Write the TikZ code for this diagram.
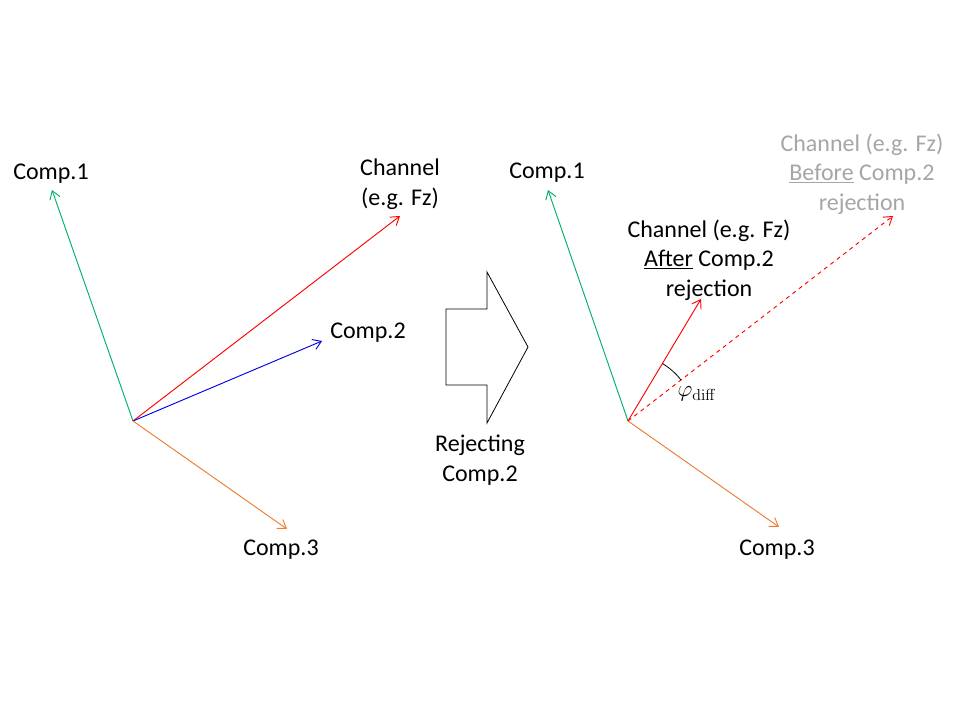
\documentclass[tikz,border=0pt]{standalone}
\usepackage[no-math]{fontspec}
\setmainfont{Carlito}
\usetikzlibrary{arrows.meta}
\definecolor{cgreen}{RGB}{0,176,100}
\definecolor{corange}{RGB}{237,125,49}
\definecolor{cred}{RGB}{255,0,0}
\definecolor{cblue}{RGB}{0,0,230}
\definecolor{cgray}{RGB}{166,166,166}
\tikzset{
  vec/.style={line width=0.7pt,-{Straight Barb[length=6pt,width=8pt]}},
  lbl/.style={font=\fontsize{18}{22.2}\selectfont,align=center,inner sep=0pt},
}
\begin{document}
\begin{tikzpicture}[x=0.75pt,y=-0.75pt]
\useasboundingbox[fill=white] (0,0) rectangle (960,720);
% left diagram
\coordinate (O1) at (133,421);
\coordinate (c1a) at (52,190);
\coordinate (cha) at (400,216);
\coordinate (c2a) at (322,341);
\coordinate (c3a) at (287,529);
\draw[vec,cgreen] (O1) -- (c1a);
\draw[vec,cred] (O1) -- (cha);
\draw[vec,cblue] (O1) -- (c2a);
\draw[vec,corange] (O1) -- (c3a);
\node[lbl] (l1a) at (51,174) {Comp.1};
\node[lbl] (lcha) at (400,184) {Channel\\(e.g. Fz)};
\node[lbl] (l2a) at (368,333) {Comp.2};
\node[lbl] (l3a) at (281,550) {Comp.3};
% block arrow
\draw[line width=0.6pt] (446,309) -- (487,309) -- (487,272) -- (528,347) -- (487,423) -- (487,385) -- (446,385) -- cycle;
\node[lbl] (rej) at (480,460) {Rejecting\\Comp.2};
% right diagram
\coordinate (O2) at (628,421);
\coordinate (c1b) at (548,190);
\coordinate (c3b) at (779,527);
\coordinate (chb) at (701,299);
\coordinate (chd) at (893,216);
\draw[vec,cgreen] (O2) -- (c1b);
\draw[vec,corange] (O2) -- (c3b);
\draw[vec,cred] (O2) -- (chb);
\draw[vec,cred,dashed] (O2) -- (chd);
\draw[line width=0.6pt] ([shift={(-37.7:67)}]O2) arc[start angle=-37.7,end angle=-59.1,radius=67];
\node[lbl] (l1b) at (547,173) {Comp.1};
\node[lbl] (l3b) at (777,550) {Comp.3};
\node[lbl] (lchb) at (709,260) {Channel (e.g. Fz)\\\underline{After} Comp.2\\rejection};
\node[lbl,text=cgray] (lchd) at (862,174) {Channel (e.g. Fz)\\\underline{Before} Comp.2\\rejection};
\node[inner sep=0pt,font=\fontsize{17}{20}\selectfont] (phi) at (697,394) {$\varphi_{\mathrm{diff}}$};
\end{tikzpicture}
\end{document}
